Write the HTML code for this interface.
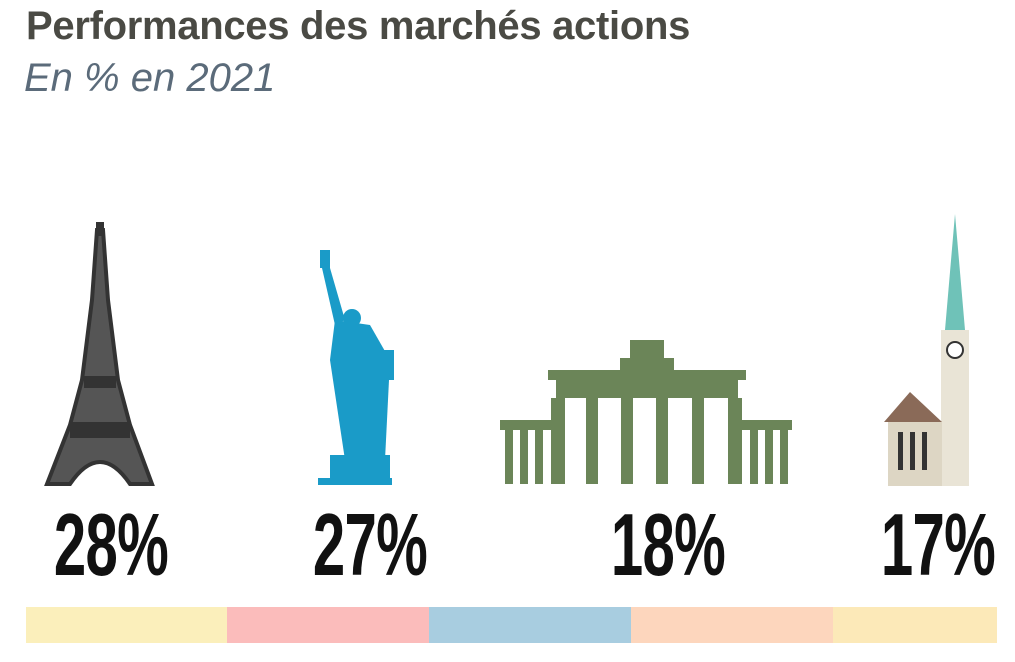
<!DOCTYPE html>
<html><head><meta charset="utf-8"><style>
body{margin:0;width:1015px;height:662px;background:#fff;overflow:hidden;position:relative;font-family:"Liberation Sans",sans-serif}
#title{position:absolute;left:26px;top:4px;font-size:40px;font-weight:bold;color:#4a4a44;letter-spacing:-0.3px}
#sub{position:absolute;left:24px;top:56px;font-size:40px;font-style:italic;color:#5b6b7a}
.pct{position:absolute;top:494px;font-size:88px;font-weight:bold;color:#111;transform:scaleX(0.66);transform-origin:center;width:240px;text-align:center;letter-spacing:-1px}
</style></head><body>
<div id="title">Performances des marchés actions</div>
<div id="sub">En % en 2021</div>
<svg width="1015" height="662" style="position:absolute;left:0;top:0">
 <g fill="none" stroke="#333" stroke-width="4">
  <path d="M97 230 L103 230 L108 300 L118 380 L130 425 L152 484 L130 484 Q100 440 70 484 L47 484 L70 425 L82 380 L92 300 Z" fill="#555" stroke="#333"/>
  <rect x="86" y="378" width="28" height="8" fill="#333"/><rect x="72" y="424" width="56" height="12" fill="#333"/>
  <rect x="98" y="224" width="4" height="10" fill="#333"/>
 </g>
 <g fill="#1a9bc8">
  <rect x="320" y="250" width="10" height="18"/><polygon points="322,268 330,268 345,320 335,325"/>
  <circle cx="352" cy="318" r="9"/><polygon points="335,320 370,325 390,360 385,460 345,460 330,360"/>
  <rect x="380" y="350" width="14" height="30"/><rect x="330" y="455" width="60" height="30"/><rect x="318" y="478" width="74" height="7"/>
 </g>
 <g fill="#6b8558">
  <rect x="548" y="370" width="198" height="10"/><rect x="556" y="380" width="182" height="18"/>
  <rect x="620" y="358" width="54" height="12"/><rect x="630" y="340" width="34" height="20"/>
  <rect x="500" y="420" width="52" height="10"/><rect x="742" y="420" width="50" height="10"/>
  <rect x="551" y="398" width="14" height="86"/><rect x="586" y="398" width="12" height="86"/><rect x="621" y="398" width="12" height="86"/><rect x="656" y="398" width="12" height="86"/><rect x="692" y="398" width="12" height="86"/><rect x="728" y="398" width="14" height="86"/>
  <rect x="505" y="430" width="8" height="54"/><rect x="520" y="430" width="8" height="54"/><rect x="535" y="430" width="8" height="54"/>
  <rect x="750" y="430" width="8" height="54"/><rect x="765" y="430" width="8" height="54"/><rect x="780" y="430" width="8" height="54"/>
 </g>
 <g>
  <polygon points="955,214 945,330 965,330" fill="#6fc2b8"/>
  <rect x="941" y="330" width="28" height="156" fill="#e9e4d6"/>
  <circle cx="955" cy="350" r="8" fill="#fff" stroke="#333" stroke-width="2"/>
  <polygon points="884,422 910,392 942,422" fill="#8a6a58"/>
  <rect x="888" y="422" width="54" height="64" fill="#ddd6c4"/>
  <rect x="898" y="432" width="5" height="38" fill="#333"/><rect x="910" y="432" width="5" height="38" fill="#333"/><rect x="922" y="432" width="5" height="38" fill="#333"/>
 </g>
 <g id="bar"></g>
</svg>
<div id="pcts"></div>
<script>
const countries=["France","Etats-Unis","Allemagne","Suisse"];
const values=[28,27,18,17];
const centers=[111,370,668,938];
const segColors=["#fbefbb","#fbbcbb","#a8cde0","#fdd6bd","#fce9b8"];
const segBounds=[26,227,429,631,833,997];
const ns="http://www.w3.org/2000/svg";
const bar=document.getElementById('bar');
segColors.forEach((c,i)=>{
 const r=document.createElementNS(ns,'rect');
 r.setAttribute('x',segBounds[i]);r.setAttribute('y',607);
 r.setAttribute('width',segBounds[i+1]-segBounds[i]);r.setAttribute('height',36);
 r.setAttribute('fill',c);
 
 
 bar.appendChild(r);
});
const p=document.getElementById('pcts');
values.forEach((v,i)=>{
 const d=document.createElement('div');
 d.className='pct';d.style.left=(centers[i]-120)+'px';d.textContent=v+'%';
 
 
 p.appendChild(d);
});
</script>
</body></html>
